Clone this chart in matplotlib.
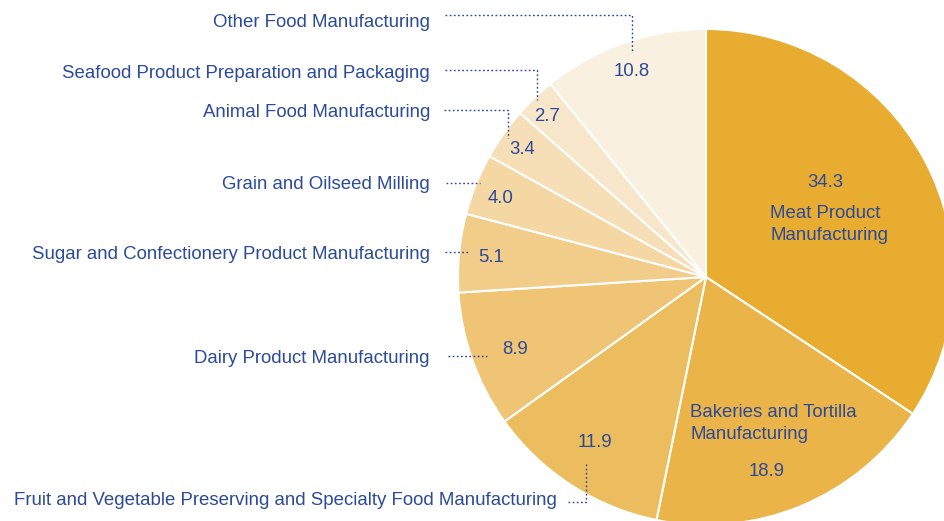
import matplotlib
matplotlib.use("Agg")
import matplotlib.pyplot as plt

categories = ["Meat Product Manufacturing", "Bakeries and Tortilla Manufacturing",
              "Fruit and Vegetable Preserving and Specialty Food Manufacturing",
              "Dairy Product Manufacturing", "Sugar and Confectionery Product Manufacturing",
              "Grain and Oilseed Milling", "Animal Food Manufacturing",
              "Seafood Product Preparation and Packaging", "Other Food Manufacturing"]
values = [34.3, 18.9, 11.9, 8.9, 5.1, 4.0, 3.4, 2.7, 10.8]
value_labels = ["34.3", "18.9", "11.9", "8.9", "5.1", "4.0", "3.4", "2.7", "10.8"]

colors = ["#E8AD30", "#EAB448", "#ECBD5E", "#EFC575", "#F2CD8A", "#F4D7A2",
          "#F6DFB7", "#F7E6CA", "#FAF0E0"]
blue = "#2B4A9A"

W, H = 945, 521
fig = plt.figure(figsize=(W / 100, H / 100), dpi=100)
ax = fig.add_axes([0, 0, 1, 1])

cx, cy, r = 706, H - 277, 248
ax.pie(values, colors=colors, startangle=90, counterclock=False,
       center=(cx, cy), radius=r, frame=True,
       wedgeprops=dict(edgecolor="white", linewidth=1.5))
ax.set_xlim(0, W)
ax.set_ylim(0, H)
ax.axis("off")

fs = 13.4
font = "Liberation Sans"
dy = 1.5

def T(x, y, s, ha="center"):
    ax.text(x, H - y - dy, s, ha=ha, va="center", color=blue, fontsize=fs, family=font,
            linespacing=1.32)

# value labels in/near wedges
val_pos = [(825, 181), (767, 470), (595, 441), (515, 348), (491, 256),
           (501, 197), (522, 148), (547, 115), (632, 70)]
for (x, y), s in zip(val_pos, value_labels):
    T(x, y, s)

# inner category labels
T(770, 223, "Meat Product\nManufacturing", ha="left")
T(690, 422, "Bakeries and Tortilla\nManufacturing", ha="left")

# outer labels with dotted leaders
outer = [
    (8, 21, 430, [(445, 15), (632, 15), (632, 51)]),
    (7, 72, 430, [(445, 70), (537, 70), (537, 100)]),
    (6, 111, 430, [(444, 110), (508, 110), (508, 138)]),
    (5, 183, 430, [(446, 183), (480, 183)]),
    (4, 253, 430, [(445, 252), (469, 252)]),
    (3, 357, 430, [(448, 356), (487, 356)]),
    (2, 499, 557, [(568, 502), (586, 502), (586, 462)]),
]
for idx, y, xr, pts in outer:
    T(xr, y, categories[idx], ha="right")
    xs = [p[0] for p in pts]
    ys = [H - p[1] for p in pts]
    ax.plot(xs, ys, color=blue, lw=1, linestyle=(0, (1.3, 1.7)))

fig.savefig("out.png", dpi=100)
